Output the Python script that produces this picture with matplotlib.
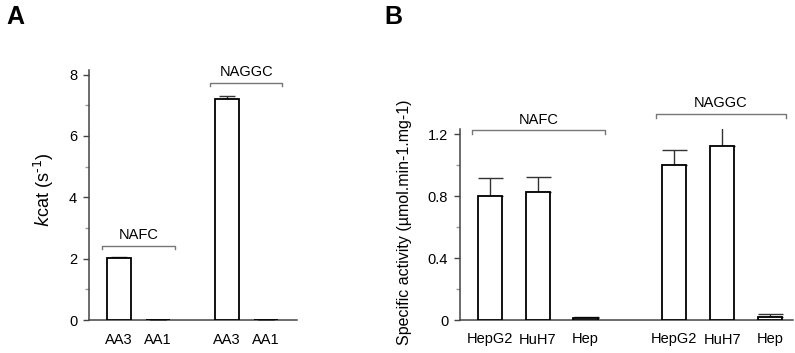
import matplotlib
matplotlib.use("Agg")
import matplotlib.pyplot as plt
from matplotlib.ticker import MultipleLocator

plt.rcParams['font.family'] = ['Liberation Sans', 'DejaVu Sans']

# Panel A data
a_labels = ["AA3", "AA1", "AA3", "AA1"]
a_values = [2.03, 0.01, 7.22, 0.01]
a_errors = [0.03, 0.0, 0.08, 0.0]
a_groups = ["NAFC", "NAGGC"]

# Panel B data
b_labels = ["HepG2", "HuH7", "Hep", "HepG2", "HuH7", "Hep"]
b_values = [0.80, 0.83, 0.01, 1.00, 1.125, 0.02]
b_errors = [0.115, 0.095, 0.01, 0.10, 0.125, 0.02]
b_groups = ["NAFC", "NAGGC"]

W, H = 795, 353
fig = plt.figure(figsize=(W / 100, H / 100), dpi=100)

def px_axes(x0, x1, ytop, ybot):
    return fig.add_axes([x0 / W, 1 - ybot / H, (x1 - x0) / W, (ybot - ytop) / H])

spine_col = "#444444"
brk_col = "#777777"

def style(ax):
    for s in ["top", "right"]:
        ax.spines[s].set_visible(False)
    for s in ["left", "bottom"]:
        ax.spines[s].set_color(spine_col)
        ax.spines[s].set_linewidth(1.1)
    ax.tick_params(axis='y', which='major', length=4, width=1, color=spine_col, labelsize=10.5, pad=4.5)
    ax.tick_params(axis='y', which='minor', length=3, width=1, color="#999999")
    ax.tick_params(axis='x', length=0, labelsize=10.5, pad=9)

def bracket(ax, x0, x1, y, drop, text, ty):
    ax.plot([x0, x0, x1, x1], [y - drop, y, y, y - drop], color=brk_col, lw=1.0, clip_on=False)
    ax.text((x0 + x1) / 2, ty, text, ha='center', va='bottom', fontsize=10.5, clip_on=False)

# Panel A
axA = px_axes(89, 297, 70, 320)
posA = [0, 1, 2.75, 3.75]
axA.bar(posA, a_values, width=0.61, color='white', edgecolor='black', linewidth=1.3, zorder=3)
axA.errorbar(posA, a_values, yerr=[[0] * 4, a_errors], fmt='none', ecolor='#333333',
             elinewidth=1, capsize=6, capthick=1, zorder=2)
axA.set_xlim(-0.76, 4.54)
axA.set_ylim(0, 8.15)
axA.yaxis.set_major_locator(MultipleLocator(2))
axA.yaxis.set_minor_locator(MultipleLocator(1))
axA.set_xticks(posA)
axA.set_xticklabels(a_labels)
style(axA)
axA.set_ylabel(r"$\it{k}$cat (s$^{\text{-1}}$)", fontsize=13)
axA.yaxis.set_label_coords(-0.16, 0.52)
bracket(axA, -0.43, 1.42, 2.42, 0.1, a_groups[0], 2.55)
bracket(axA, 2.32, 4.17, 7.74, 0.1, a_groups[1], 7.87)
fig.text(15 / W, 1 - 17 / H, "A", fontsize=18, fontweight='bold', ha='center', va='center')

# Panel B
axB = px_axes(460, 793, 129, 320)
posB = [0, 1, 2, 3.85, 4.85, 5.85]
axB.bar(posB, b_values, width=0.51, color='white', edgecolor='black', linewidth=1.3, zorder=3)
axB.errorbar(posB, b_values, yerr=[[0] * 6, b_errors], fmt='none', ecolor='#333333',
             elinewidth=1, capsize=9, capthick=1, zorder=2)
axB.set_xlim(-0.625, 6.33)
axB.set_ylim(0, 1.235)
axB.yaxis.set_minor_locator(MultipleLocator(0.2))
axB.set_yticks([0, 0.4, 0.8, 1.2])
axB.set_yticklabels(["0", "0.4", "0.8", "1.2"])
axB.set_xticks(posB)
axB.set_xticklabels(b_labels)
style(axB)
axB.set_ylabel("Specific activity (µmol.min-1.mg-1)", fontsize=11.5)
axB.yaxis.set_label_coords(-0.144, 0.51)
bracket(axB, -0.37, 2.40, 1.226, 0.025, b_groups[0], 1.25)
bracket(axB, 3.46, 6.18, 1.33, 0.025, b_groups[1], 1.355)
fig.text(393 / W, 1 - 17 / H, "B", fontsize=18, fontweight='bold', ha='center', va='center')

fig.savefig("out.png", dpi=100)
